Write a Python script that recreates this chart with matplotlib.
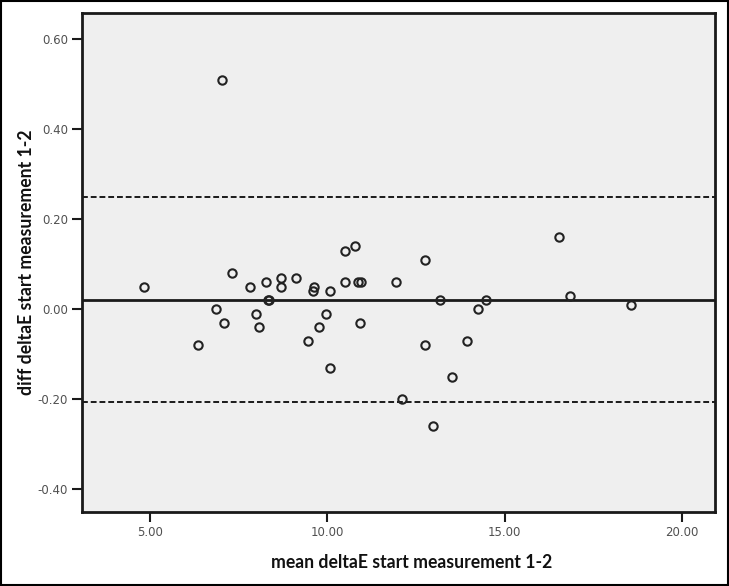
import matplotlib
matplotlib.use("Agg")
import matplotlib.pyplot as plt

mean_x = [4.84, 7.04, 6.34, 6.85, 7.08, 7.32, 7.81, 8.00, 8.07, 8.27, 8.32, 8.34,
          8.68, 8.68, 9.11, 9.44, 9.58, 9.63, 9.76, 9.95, 10.06, 10.06, 10.50, 10.50,
          10.79, 10.86, 10.94, 10.92, 11.94, 12.11, 12.76, 12.76, 12.98, 13.17, 13.50,
          13.95, 14.26, 14.48, 16.53, 16.85, 18.56]
diff_y = [0.05, 0.51, -0.08, 0.00, -0.03, 0.08, 0.05, -0.01, -0.04, 0.06, 0.02, 0.02,
          0.07, 0.05, 0.07, -0.07, 0.04, 0.05, -0.04, -0.01, 0.04, -0.13, 0.13, 0.06,
          0.14, 0.06, 0.06, -0.03, 0.06, -0.20, 0.11, -0.08, -0.26, 0.02, -0.15,
          -0.07, 0.00, 0.02, 0.16, 0.03, 0.01]
mean_diff = 0.021
upper_loa = 0.248
lower_loa = -0.206

x_ticks = [5, 10, 15, 20]
y_ticks = [-0.4, -0.2, 0.0, 0.2, 0.4, 0.6]

fig = plt.figure(figsize=(7.29, 5.86), dpi=100)
fig.patch.set_facecolor("white")
ax = fig.add_axes([0.1125, 0.1263, 0.8683, 0.8515])
ax.set_facecolor("#efefef")

ax.axhline(mean_diff, color="#1a1a1a", lw=2.0, zorder=2)
ax.axhline(upper_loa, color="#1a1a1a", lw=1.4, ls=(0, (3, 1.5)), zorder=2)
ax.axhline(lower_loa, color="#1a1a1a", lw=1.4, ls=(0, (3, 1.5)), zorder=2)

ax.plot(mean_x, diff_y, ls="none", marker="o", ms=6, mfc="none",
        mec="#222222", mew=1.5, zorder=3)

ax.set_xlim(3.08, 20.93)
ax.set_ylim(-0.451, 0.658)
ax.set_xticks(x_ticks)
ax.set_xticklabels([f"{v:.2f}" for v in x_ticks])
ax.set_yticks(y_ticks)
ax.set_yticklabels([f"{v:.2f}" for v in y_ticks])

for s in ax.spines.values():
    s.set_linewidth(2.0)
    s.set_color("#1a1a1a")

ax.tick_params(axis="both", direction="out", length=7, width=1.5, color="#1a1a1a",
               labelsize=8.5, labelcolor="#505050", pad=3)

ax.set_xlabel("mean deltaE start measurement 1-2", fontsize=12.7, fontweight="bold",
              family=["Lato", "DejaVu Sans"], color="#111111")
ax.set_ylabel("diff deltaE start measurement 1-2", fontsize=12.7, fontweight="bold",
              family=["Lato", "DejaVu Sans"], color="#111111")
ax.xaxis.set_label_coords(412 / 729, 1 - 563 / 586, transform=fig.transFigure)
ax.yaxis.set_label_coords(27 / 729, 1 - 262 / 586, transform=fig.transFigure)
ax.xaxis.label.set_va("center")
ax.yaxis.label.set_va("center")

fig.add_artist(plt.Rectangle((0.001, 0.001), 0.998, 0.998, transform=fig.transFigure,
                             fill=False, edgecolor="black", lw=1.5))

fig.savefig("out.png", dpi=100)
